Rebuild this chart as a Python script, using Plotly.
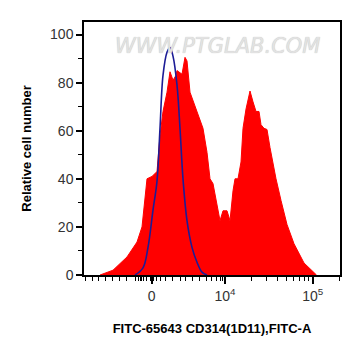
import plotly.graph_objects as go

# x values in display channel units (0-1024), y in relative cell number
sample_x = [64, 116, 172, 212, 232, 244, 252, 272, 292, 304, 316, 332, 344, 356, 368, 372,
            392, 404, 412, 424, 452, 476, 492, 504, 516, 528, 536, 544, 556, 572, 584, 596,
            604, 616, 628, 636, 648, 664, 676, 688, 700, 708, 720, 732, 744, 768, 788, 812,
            840, 880, 930]
sample_y = [0, 2, 7.5, 13.7, 20, 32, 40, 41, 43, 58, 68, 76, 84.5, 81, 83, 85,
            83.5, 90.5, 89, 76, 68, 61, 51, 40, 38, 31, 25.5, 22.6, 26.7, 26.7, 22.6, 35,
            40, 40, 47, 61, 69, 76.5, 72, 68, 68, 62.5, 61, 60.5, 53, 40, 31, 21,
            13, 5, 0]

control_x = [204, 236, 256, 276, 292, 304, 316, 332, 344, 356, 372, 384, 396, 412, 432, 452, 472, 492]
control_y = [0, 3, 11.5, 27, 39, 61, 83, 92.6, 94.6, 91, 79, 61, 40, 22.6, 11.5, 5.3, 1.2, 0]

major_ticks = [271, 564, 915]
major_labels = ["0", "10<sup>4</sup>", "10<sup>5</sup>"]

y_ticks = [0, 20, 40, 60, 80, 100]

def px2ch(p):
    return (p - 84) * 4

minor_px = [85, 92, 98.7, 105.3, 112.7, 119.3, 126, 135, 138.3, 140, 141.7, 143.3, 146.7,
            150, 153.3, 156.7, 160, 165.7, 172.3, 180, 185.7, 192.3, 199.3, 206.7, 211.7,
            216.7, 220, 222.7,
            251.4, 266.8, 277.8, 286.3, 293.2, 299.1, 304.2, 308.7, 339]
minor_ch = [px2ch(p) for p in minor_px]

fig = go.Figure()
fig.add_trace(go.Scatter(x=sample_x, y=sample_y, mode="lines", fill="tozeroy",
                         fillcolor="#ff0000", line=dict(color="#ff0000", width=1),
                         hoverinfo="skip", showlegend=False))
fig.add_trace(go.Scatter(x=control_x, y=control_y, mode="lines",
                         line=dict(color="#1c1c96", width=1.6, shape="spline"),
                         hoverinfo="skip", showlegend=False))

fig.add_annotation(text="WWW.PTGLAB.COM", xref="paper", yref="paper", x=0.52, y=0.96,
                   showarrow=False,
                   font=dict(family="DejaVu Sans, Arial", size=21, color="#e2e2e2",
                             style="italic", shadow="0px 0px 1px #b8b8b8"))

axis_font = dict(family="Liberation Sans, Arial", size=14, color="#333333")
title_font = dict(family="Liberation Sans, Arial", size=13, color="#000000", weight="bold")

fig.update_layout(
    width=353, height=348,
    margin=dict(l=76, r=21, t=12, b=81),
    paper_bgcolor="white", plot_bgcolor="white",
    xaxis=dict(range=[0, 1024], tickmode="array", tickvals=major_ticks, ticktext=major_labels,
               ticks="outside", ticklen=7, tickwidth=1.5, tickcolor="black",
               showgrid=False, zeroline=False, showline=True, linecolor="black", linewidth=1.5,
               mirror=True, tickfont=axis_font,
               minor=dict(tickmode="array", tickvals=minor_ch, ticks="outside", ticklen=4,
                          tickwidth=1, tickcolor="black", showgrid=False),
               title=dict(text="FITC-65643 CD314(1D11),FITC-A", font=title_font, standoff=21)),
    yaxis=dict(range=[0, 105.2], tickmode="array", tickvals=y_ticks,
               ticks="outside", ticklen=6, tickwidth=1.5, tickcolor="black",
               showgrid=False, zeroline=False, showline=True, linecolor="black", linewidth=1.5,
               mirror=True, tickfont=axis_font,
               minor=dict(tickmode="array", tickvals=[10, 30, 50, 70, 90], ticks="outside",
                          ticklen=4, tickwidth=1, tickcolor="black", showgrid=False),
               title=dict(text="Relative cell number", font=title_font, standoff=16)),
)

fig.write_html("out.html")
